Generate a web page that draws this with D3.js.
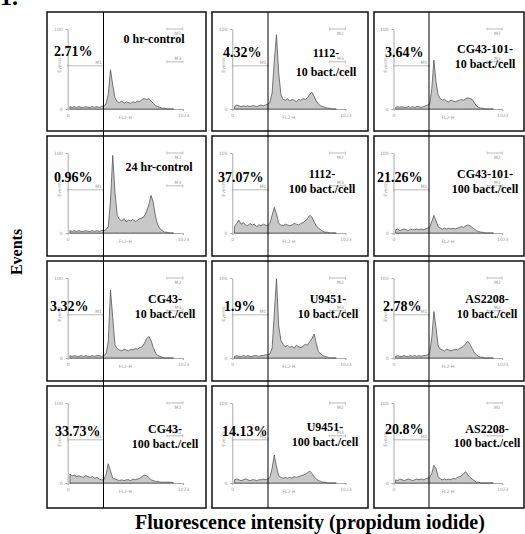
<!DOCTYPE html>
<html>
<head>
<meta charset="utf-8">
<script src="https://cdn.jsdelivr.net/npm/d3@7"></script>
<style>
  body { margin: 0; background: #fff; }
  svg { display: block; }
</style>
</head>
<body>
<svg width="525" height="534"></svg>
<script>
const svg = d3.select("svg");
const SERIF = "'Liberation Serif', 'Times New Roman', 'DejaVu Serif', serif";

// panel titles and percentages (reading order, 3 per row)
const titles = [
    ["0 hr-control"], ["1112-", "10 bact./cell"], ["CG43-101-", "10 bact./cell"],
    ["24 hr-control"], ["1112-", "100 bact./cell"], ["CG43-101-", "100 bact./cell"],
    ["CG43-", "10 bact./cell"], ["U9451-", "10 bact./cell"], ["AS2208-", "10 bact./cell"],
    ["CG43-", "100 bact./cell"], ["U9451-", "100 bact./cell"], ["AS2208-", "100 bact./cell"]
];
const percents = ["2.71%", "4.32%", "3.64%", "0.96%", "37.07%", "21.26%",
                  "3.32%", "1.9%", "2.78%", "33.73%", "14.13%", "20.8%"];

// FL2-H channels (bin centres), counts
const channels = d3.range(20, 960, 20);
const h0hr    = [3,2,3,2,3,2,2,3,2,2,3,2,3,2,3,4,6,18,49,30,14,9,8,10,7,9,8,7,9,8,10,9,12,13,12,13,10,7,4,3,2,1,1,0,0,0,0];
const h1112a  = [3,5,4,3,4,3,4,3,4,4,3,4,5,4,5,6,8,20,60,93,45,18,12,11,13,10,12,11,9,12,11,13,12,14,18,21,16,10,6,4,3,2,1,1,0,0,0];
const hCG101a = [2,3,2,3,2,2,3,2,3,2,3,3,2,3,4,5,6,25,61,34,18,13,11,12,10,9,11,10,9,10,11,12,11,13,14,13,12,8,4,2,1,1,0,0,0,0,0];
const h24hr   = [3,2,3,2,3,2,2,3,2,2,3,2,3,2,3,3,4,8,40,97,50,22,17,15,18,14,16,15,17,14,16,18,19,21,27,35,47,38,20,10,5,3,1,1,0,0,0];
const h1112b  = [8,12,16,11,13,10,9,12,10,11,8,10,9,11,10,9,12,22,32,24,12,10,9,11,10,9,10,12,11,10,12,13,15,18,22,20,14,9,6,4,2,1,1,0,0,0,0];
const hCG101b = [4,5,3,4,5,4,3,5,4,4,5,4,5,4,5,6,7,14,22,15,8,6,5,6,5,6,5,6,5,6,7,8,7,9,10,9,7,5,3,2,1,1,0,0,0,0,0];
const hCG43a  = [3,2,3,2,2,3,2,3,2,2,3,2,3,3,2,3,5,20,85,50,16,12,10,9,11,10,9,11,10,12,11,13,14,18,24,27,22,13,6,3,2,1,0,0,0,0,0];
const hU9451a = [2,3,2,2,3,2,3,2,2,3,3,2,3,3,4,4,5,12,55,99,40,22,17,14,16,13,15,12,16,14,13,15,17,16,20,24,30,18,8,5,3,2,1,0,0,0,0];
const hAS2208a= [2,3,2,2,3,2,2,3,2,3,2,3,2,3,3,4,6,25,58,38,15,11,10,9,11,10,9,10,11,10,12,13,15,18,21,17,12,7,4,2,1,1,0,0,0,0,0];
const hCG43b  = [11,9,10,8,9,8,7,9,8,7,8,6,7,5,4,4,10,24,15,6,5,4,3,4,3,4,4,3,5,4,5,6,8,10,9,7,4,3,2,2,1,1,1,1,1,1,0];
const hU9451b = [4,5,4,3,4,5,4,3,4,4,3,4,4,5,4,5,7,18,35,20,9,7,6,7,6,7,6,8,7,8,9,10,11,13,15,12,8,5,3,2,1,1,0,0,0,0,0];
const hAS2208b= [4,3,5,4,3,4,5,4,3,4,5,4,5,4,5,6,7,12,22,18,8,5,4,5,4,5,4,6,5,7,8,9,12,14,10,7,5,3,1,1,0,0,0,0,0,0,0];
const histograms = [h0hr, h1112a, hCG101a, h24hr, h1112b, hCG101b,
                    hCG43a, hU9451a, hAS2208a, hCG43b, hU9451b, hAS2208b];

// marker gates on the cytometer plots
const m1Level = 54, m2Level = 100, m3Level = 59;

// layout of the grid
const colX = [47, 212, 374], colW = [159, 156, 150];
const rowY = [12, 136, 261, 386], rowH = [119, 120, 120, 122];
const gateX = [103.5, 268, 429];
// label offsets inside each panel: [title centre x, first baseline, line gap, pct x, pct baseline]
const labelPos = [
    [107, 31, 0, 7, 44], [114, 45, 19, 11, 45], [111, 41, 15, 11, 45],
    [112, 35, 0, 7, 46], [110, 42, 15, 6, 46], [111, 42, 15, 3, 46],
    [118, 42, 15, 3, 50], [116, 42, 15, 12, 50], [113, 42, 15, 9, 50],
    [118, 47, 15, 8, 50], [113, 45, 15, 10, 50], [113, 47, 14, 11, 48]
];

// figure letter, cut off at the top
svg.append("text").attr("x", 0).attr("y", 5).attr("font-family", SERIF)
    .attr("font-size", 24).attr("font-weight", "bold").text("1.");

histograms.forEach((counts, i) => {
    const r = Math.floor(i / 3), c = i % 3;
    const px = colX[c], py = rowY[r], w = colW[c], h = rowH[r];
    const x = d3.scaleLinear().domain([0, 1023]).range([px + 0.13 * w, px + 0.855 * w]);
    const y = d3.scaleLinear().domain([0, 100]).range([py + 97, py + 17]);
    const g = svg.append("g");

    // faint cytometer axes
    const gx = g.append("g").attr("transform", `translate(0,${y(0)})`)
        .call(d3.axisBottom(x).tickValues([0, 1023]).tickFormat(d3.format("d")).tickSize(2).tickSizeOuter(0));
    const gy = g.append("g").attr("transform", `translate(${x(0)},0)`)
        .call(d3.axisLeft(y).tickValues([0, 100]).tickSize(2).tickSizeOuter(0));
    [gx, gy].forEach(a => {
        a.selectAll("path,line").attr("stroke", "#aaa");
        a.selectAll("text").attr("fill", "#999").attr("font-size", 4.5)
            .style("font-family", "DejaVu Sans");
    });
    g.append("text").attr("x", (x(0) + x(1023)) / 2).attr("y", y(0) + 10)
        .attr("text-anchor", "middle").attr("font-size", 4.5).attr("fill", "#999")
        .style("font-family", "DejaVu Sans").text("FL2-H");
    g.append("text").attr("transform", `translate(${x(0) - 7},${y(55)}) rotate(-90)`)
        .attr("text-anchor", "middle").attr("font-size", 4.5).attr("fill", "#999")
        .style("font-family", "DejaVu Sans").text("Events");

    // histogram
    const pts = channels.map((ch, k) => [ch, counts[k]]);
    g.append("path").datum(pts)
        .attr("fill", "#c8c8c8")
        .attr("stroke", "#555").attr("stroke-width", 0.8)
        .attr("d", d3.area().x(d => x(d[0])).y0(y(0)).y1(d => y(d[1])));

    // marker brackets M1, M2, M3
    const gx1 = gateX[c];
    const brackets = [
        [x(0), gx1, y(m1Level), "M1"],
        [x(880), x(1023), y(m2Level), "M2"],
        [x(880), x(1023), y(m3Level), "M3"]
    ];
    brackets.forEach(([a, b, yy, name]) => {
        g.append("line").attr("x1", a).attr("x2", b).attr("y1", yy).attr("y2", yy)
            .attr("stroke", "#aaa").attr("stroke-width", 0.8);
        [a, b].forEach(xx => g.append("line").attr("x1", xx).attr("x2", xx)
            .attr("y1", yy - 1.5).attr("y2", yy + 1.5).attr("stroke", "#aaa").attr("stroke-width", 0.6));
        g.append("text").attr("x", b - 5).attr("y", name === "M2" ? yy + 6 : yy - 2)
            .attr("text-anchor", "middle").attr("font-size", 4.5).attr("fill", "#999")
            .style("font-family", "DejaVu Sans").text(name);
    });

    // panel frame
    g.append("rect").attr("x", px).attr("y", py).attr("width", w).attr("height", h)
        .attr("fill", "none").attr("stroke", "#111").attr("stroke-width", 1.5);

    // labels
    const [tx, ty, gap, pxl, pyl] = labelPos[i];
    titles[i].forEach((line, k) => {
        g.append("text").attr("x", px + tx).attr("y", py + ty + k * gap)
            .attr("text-anchor", "middle").attr("font-family", SERIF)
            .attr("font-size", 12).attr("font-weight", "bold")
            .text(line);
    });
    g.append("text").attr("x", px + pxl).attr("y", py + pyl).attr("font-family", SERIF)
        .attr("font-size", 14).attr("font-weight", "bold").text(percents[i]);
});

// gate lines running through each column
gateX.forEach(gx => {
    svg.append("line").attr("x1", gx).attr("x2", gx)
        .attr("y1", rowY[0]).attr("y2", rowY[3] + rowH[3])
        .attr("stroke", "#000").attr("stroke-width", 1);
});

// axis titles
svg.append("text")
    .attr("transform", "translate(22,252) rotate(-90)")
    .attr("text-anchor", "middle").attr("font-family", SERIF)
    .attr("font-size", 16).attr("font-weight", "bold")
    .text("Events");
svg.append("text")
    .attr("x", 310).attr("y", 529)
    .attr("text-anchor", "middle").attr("font-family", SERIF)
    .attr("font-size", 20).attr("font-weight", "bold")
    .text("Fluorescence intensity (propidum iodide)");
</script>
</body>
</html>
